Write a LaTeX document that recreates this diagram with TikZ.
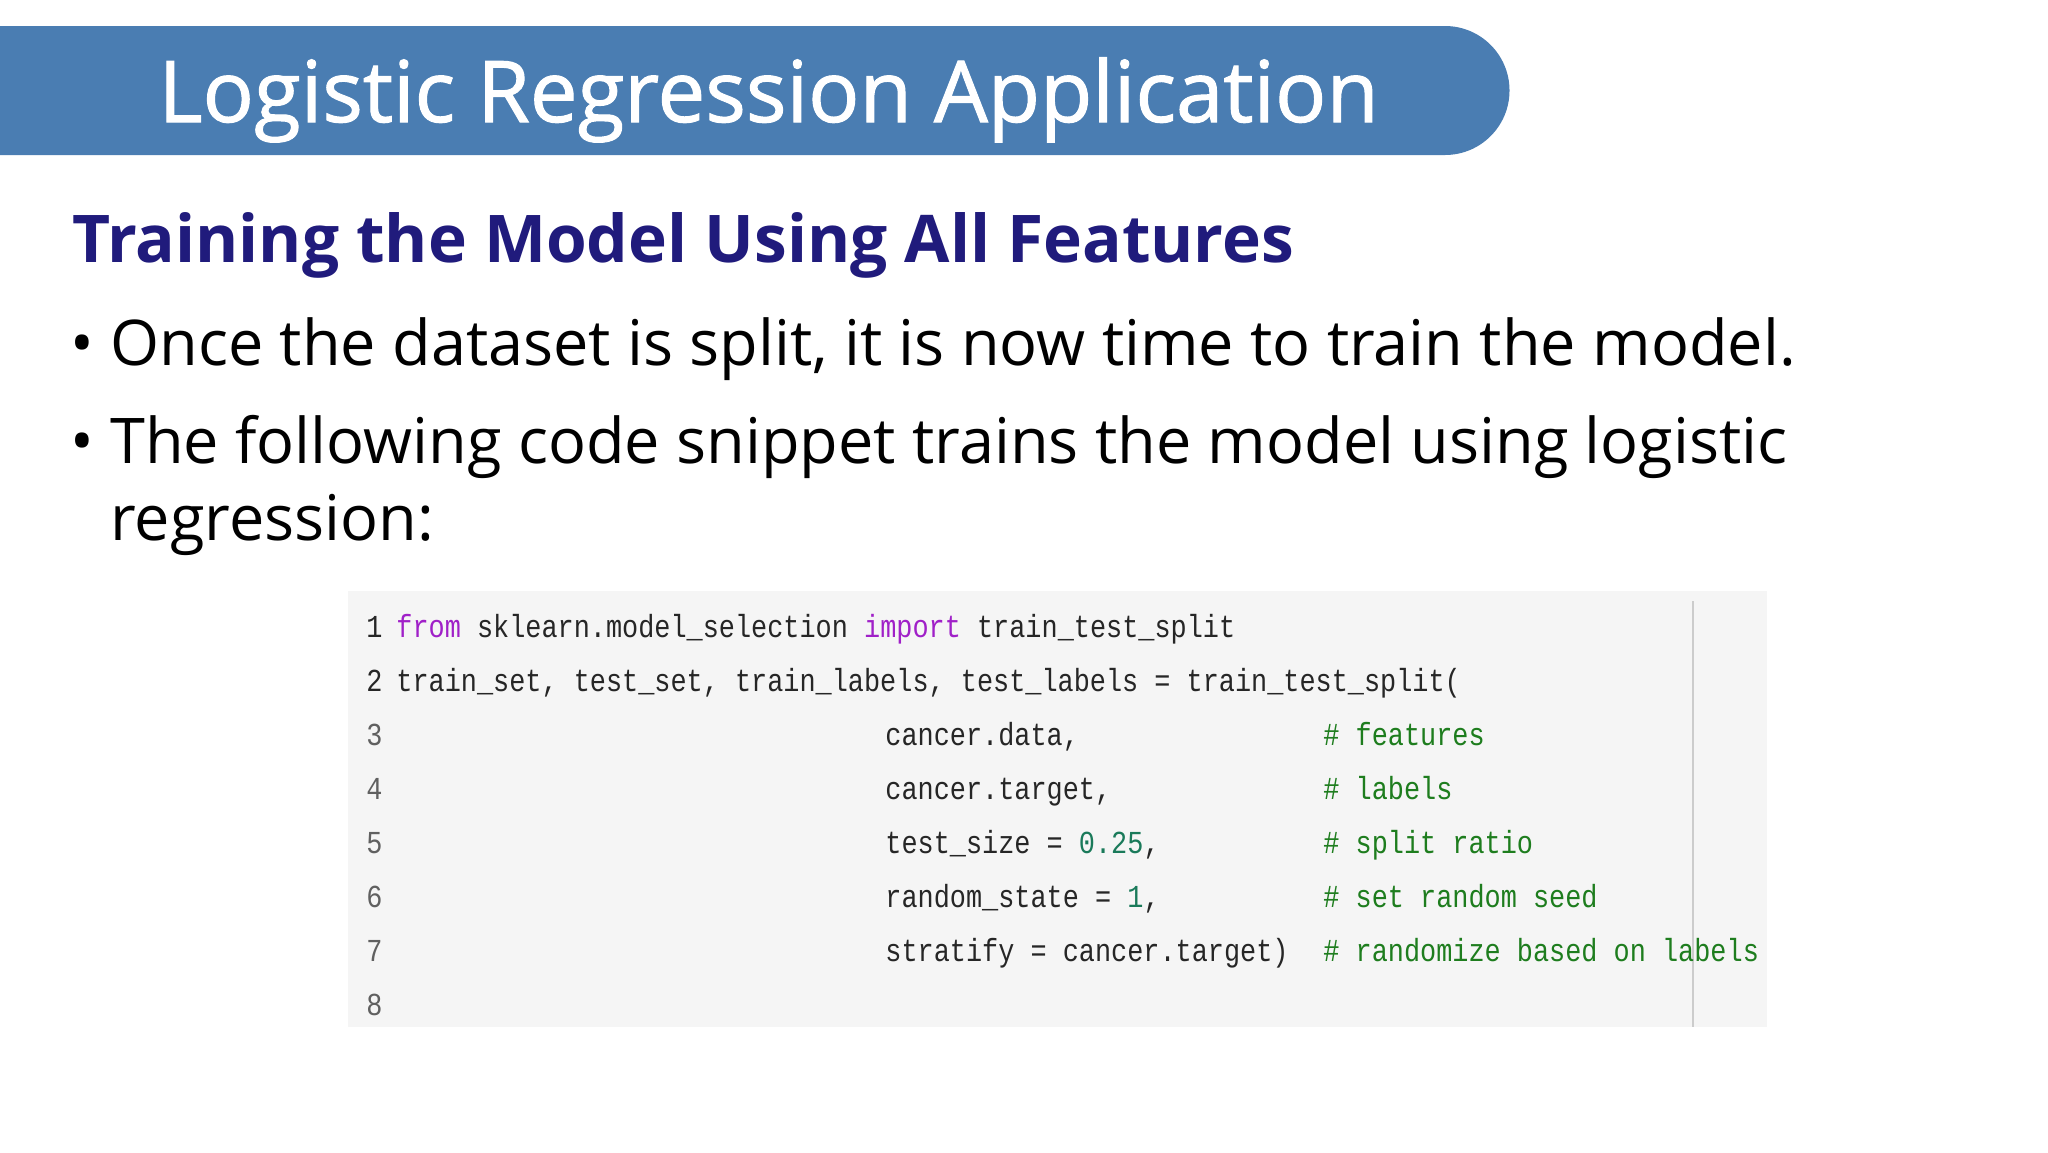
\documentclass[tikz,border=0pt]{standalone}
\usepackage{fontspec}
\setmainfont{Open Sans}
\newfontfamily\titlefont[FakeBold=1.2]{Open Sans}
\newfontfamily\codefont[FakeStretch=0.84]{Liberation Mono}
\definecolor{banner}{HTML}{4A7DB2}
\definecolor{navy}{HTML}{201B7C}
\definecolor{codebg}{HTML}{F5F5F5}
\definecolor{kw}{HTML}{A020C8}
\definecolor{cm}{HTML}{1E7D1E}
\definecolor{num}{HTML}{1A7A5A}
\definecolor{lno}{HTML}{606060}
\tikzset{
  txt/.style={anchor=base west, inner sep=0pt},
  code/.style={txt, font=\codefont\fontsize{16}{16}\selectfont, text=black!85},
  lnum/.style={code, text=lno},
  bullet/.style={txt, font=\fontsize{31.5}{31.5}\selectfont},
}
\begin{document}
\begin{tikzpicture}[x=0.5pt,y=-0.5pt]
\useasboundingbox (0,0) rectangle (2048,1152);
\fill[white] (0,0) rectangle (2048,1152);
% banner
\fill[banner] (0,26) -- (1445,26) arc[start angle=-90,end angle=90,radius=64.5] -- (0,155) -- cycle;
\node[txt, text=white, font=\titlefont\fontsize{42.6}{42.6}\selectfont] (title) at (158,122) {Logistic Regression Application};
\node[txt, text=navy, font=\bfseries\fontsize{32.9}{32.9}\selectfont] (sub) at (72,262) {Training the Model Using All Features};
\node[bullet] (b1) at (70,365) {•};
\node[bullet] (t1) at (110,365) {Once the dataset is split, it is now time to train the model.};
\node[bullet] (b2) at (70,463) {•};
\node[bullet] (t2) at (110,463) {The following code snippet trains the model using logistic};
\node[bullet] (t3) at (110,540) {regression:};
% code box
\fill[codebg] (348,591) rectangle (1767,1027);
\draw[black!20, line width=1pt] (1693,601) -- (1693,1027);
\foreach \n/\y in {1/637,2/691} \node[code] (l\n) at (366,\y) {\n};
\foreach \n/\y in {3/745,4/799,5/853,6/907,7/961,8/1015} \node[lnum] (l\n) at (366,\y) {\n};
\node[code] (c1) at (396,637) {\textcolor{kw}{from} sklearn.model\_selection \textcolor{kw}{import} train\_test\_split};
\node[code] (c2) at (396,691) {train\_set, test\_set, train\_labels, test\_labels = train\_test\_split(};
\node[code] (c3) at (885,745) {cancer.data,};
\node[code] (c4) at (885,799) {cancer.target,};
\node[code] (c5) at (885,853) {test\_size = \textcolor{num}{0.25},};
\node[code] (c6) at (885,907) {random\_state = \textcolor{num}{1},};
\node[code] (c7) at (885,961) {stratify = cancer.target)};
\node[code, text=cm] (m3) at (1323,745) {\# features};
\node[code, text=cm] (m4) at (1323,799) {\# labels};
\node[code, text=cm] (m5) at (1323,853) {\# split ratio};
\node[code, text=cm] (m6) at (1323,907) {\# set random seed};
\node[code, text=cm] (m7) at (1323,961) {\# randomize based on labels};
\end{tikzpicture}
\end{document}
